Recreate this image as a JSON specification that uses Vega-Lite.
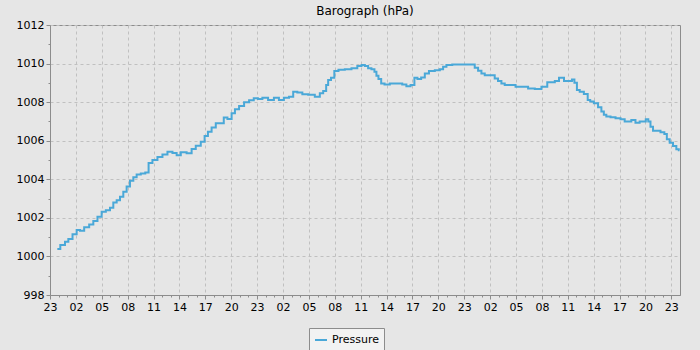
{
  "$schema": "https://vega.github.io/schema/vega-lite/v6.json",
  "width": 630,
  "height": 270,
  "autosize": "none",
  "padding": {"left": 50, "top": 25, "right": 20, "bottom": 55},
  "background": "#e6e6e6",
  "title": {"text": "Barograph (hPa)", "font": "DejaVu Sans", "fontSize": 12, "fontWeight": "normal", "color": "#000000", "anchor": "middle", "offset": 1},
  "config": {
    "view": {"fill": "#e6e6e6", "stroke": "#8c8c8c", "strokeWidth": 1},
    "axis": {"labelFont": "DejaVu Sans", "labelFontSize": 11, "labelColor": "#000000", "domainColor": "#8c8c8c", "tickColor": "#8c8c8c", "gridColor": "#c0c0c0", "gridDash": [3, 3], "gridWidth": 1, "title": null}
  },
  "data": {"values": [
    {"t": 0.85, "p": 1000.38}, {"t": 1.54, "p": 1000.59}, {"t": 1.93, "p": 1000.76}, {"t": 2.32, "p": 1000.90},
    {"t": 2.90, "p": 1001.15}, {"t": 3.28, "p": 1001.37}, {"t": 3.67, "p": 1001.33}, {"t": 4.25, "p": 1001.51},
    {"t": 4.83, "p": 1001.65}, {"t": 5.21, "p": 1001.84}, {"t": 5.79, "p": 1002.06}, {"t": 6.18, "p": 1002.32},
    {"t": 6.76, "p": 1002.39}, {"t": 7.14, "p": 1002.53}, {"t": 7.53, "p": 1002.79}, {"t": 7.92, "p": 1002.91},
    {"t": 8.30, "p": 1003.10}, {"t": 8.69, "p": 1003.36}, {"t": 9.07, "p": 1003.62}, {"t": 9.46, "p": 1003.93},
    {"t": 9.85, "p": 1004.10}, {"t": 10.23, "p": 1004.25}, {"t": 10.81, "p": 1004.30}, {"t": 11.27, "p": 1004.35},
    {"t": 11.58, "p": 1004.85}, {"t": 12.16, "p": 1005.00}, {"t": 12.74, "p": 1005.15}, {"t": 13.32, "p": 1005.29},
    {"t": 13.90, "p": 1005.43}, {"t": 14.48, "p": 1005.36}, {"t": 14.87, "p": 1005.24}, {"t": 15.44, "p": 1005.40},
    {"t": 16.22, "p": 1005.35}, {"t": 16.60, "p": 1005.57}, {"t": 17.18, "p": 1005.74}, {"t": 17.76, "p": 1005.95},
    {"t": 18.07, "p": 1006.24}, {"t": 18.53, "p": 1006.47}, {"t": 18.92, "p": 1006.69}, {"t": 19.50, "p": 1006.90},
    {"t": 20.00, "p": 1006.90}, {"t": 20.27, "p": 1007.21}, {"t": 20.85, "p": 1007.12}, {"t": 21.24, "p": 1007.42},
    {"t": 21.62, "p": 1007.63}, {"t": 22.20, "p": 1007.80}, {"t": 22.78, "p": 1007.99}, {"t": 23.36, "p": 1008.10},
    {"t": 23.86, "p": 1008.20}, {"t": 24.32, "p": 1008.16}, {"t": 24.90, "p": 1008.23}, {"t": 25.64, "p": 1008.11},
    {"t": 26.25, "p": 1008.23}, {"t": 26.80, "p": 1008.11}, {"t": 27.40, "p": 1008.23}, {"t": 27.99, "p": 1008.28},
    {"t": 28.37, "p": 1008.54}, {"t": 28.95, "p": 1008.50}, {"t": 29.53, "p": 1008.41}, {"t": 30.30, "p": 1008.38},
    {"t": 31.07, "p": 1008.28}, {"t": 31.46, "p": 1008.46}, {"t": 31.85, "p": 1008.58}, {"t": 32.15, "p": 1008.89},
    {"t": 32.31, "p": 1009.15}, {"t": 32.81, "p": 1009.27}, {"t": 33.08, "p": 1009.61}, {"t": 33.77, "p": 1009.68},
    {"t": 34.55, "p": 1009.71}, {"t": 35.32, "p": 1009.76}, {"t": 35.90, "p": 1009.87}, {"t": 36.29, "p": 1009.92},
    {"t": 36.67, "p": 1009.87}, {"t": 37.05, "p": 1009.76}, {"t": 37.44, "p": 1009.71}, {"t": 37.75, "p": 1009.58},
    {"t": 37.90, "p": 1009.37}, {"t": 38.22, "p": 1009.20}, {"t": 38.53, "p": 1008.97}, {"t": 38.99, "p": 1008.92},
    {"t": 39.76, "p": 1008.97}, {"t": 40.53, "p": 1008.97}, {"t": 41.10, "p": 1008.92}, {"t": 41.49, "p": 1008.83},
    {"t": 42.07, "p": 1008.89}, {"t": 42.38, "p": 1009.27}, {"t": 42.77, "p": 1009.20}, {"t": 43.24, "p": 1009.28},
    {"t": 43.62, "p": 1009.49}, {"t": 44.20, "p": 1009.61}, {"t": 44.98, "p": 1009.66}, {"t": 45.36, "p": 1009.71},
    {"t": 45.74, "p": 1009.83}, {"t": 46.13, "p": 1009.92}, {"t": 47.09, "p": 1009.95}, {"t": 48.56, "p": 1009.95},
    {"t": 49.02, "p": 1009.95}, {"t": 49.41, "p": 1009.78}, {"t": 49.80, "p": 1009.63}, {"t": 50.18, "p": 1009.49},
    {"t": 50.57, "p": 1009.40}, {"t": 51.34, "p": 1009.40}, {"t": 51.72, "p": 1009.23}, {"t": 52.11, "p": 1009.09},
    {"t": 52.50, "p": 1008.97}, {"t": 52.88, "p": 1008.89}, {"t": 53.46, "p": 1008.89}, {"t": 54.43, "p": 1008.80},
    {"t": 55.01, "p": 1008.80}, {"t": 55.79, "p": 1008.71}, {"t": 56.56, "p": 1008.68}, {"t": 57.33, "p": 1008.80},
    {"t": 57.91, "p": 1009.03}, {"t": 58.30, "p": 1009.03}, {"t": 58.69, "p": 1009.09}, {"t": 59.27, "p": 1009.27},
    {"t": 59.85, "p": 1009.09}, {"t": 60.35, "p": 1009.09}, {"t": 60.61, "p": 1009.18}, {"t": 60.92, "p": 1009.01},
    {"t": 61.19, "p": 1008.63}, {"t": 61.57, "p": 1008.54}, {"t": 62.15, "p": 1008.42}, {"t": 62.46, "p": 1008.11},
    {"t": 62.73, "p": 1008.03}, {"t": 63.31, "p": 1007.94}, {"t": 63.70, "p": 1007.73}, {"t": 64.08, "p": 1007.51},
    {"t": 64.27, "p": 1007.34}, {"t": 64.66, "p": 1007.25}, {"t": 65.24, "p": 1007.22}, {"t": 65.82, "p": 1007.16},
    {"t": 66.40, "p": 1007.11}, {"t": 66.78, "p": 1006.99}, {"t": 67.17, "p": 1006.99}, {"t": 67.55, "p": 1007.07},
    {"t": 68.13, "p": 1006.93}, {"t": 68.52, "p": 1006.99}, {"t": 68.90, "p": 1006.99}, {"t": 69.17, "p": 1007.11},
    {"t": 69.48, "p": 1006.99}, {"t": 69.68, "p": 1006.73}, {"t": 70.07, "p": 1006.52}, {"t": 70.45, "p": 1006.52},
    {"t": 71.03, "p": 1006.44}, {"t": 71.34, "p": 1006.35}, {"t": 71.61, "p": 1006.07}, {"t": 72.00, "p": 1005.90},
    {"t": 72.38, "p": 1005.73}, {"t": 72.77, "p": 1005.56}, {"t": 72.95, "p": 1005.50}
  ]},
  "mark": {"type": "line", "interpolate": "step", "strokeWidth": 2},
  "encoding": {
    "x": {
      "field": "t", "type": "quantitative",
      "scale": {"domain": [0, 73], "nice": false, "zero": false},
      "axis": {
        "values": [0,1,2,3,4,5,6,7,8,9,10,11,12,13,14,15,16,17,18,19,20,21,22,23,24,25,26,27,28,29,30,31,32,33,34,35,36,37,38,39,40,41,42,43,44,45,46,47,48,49,50,51,52,53,54,55,56,57,58,59,60,61,62,63,64,65,66,67,68,69,70,71,72],
        "labelExpr": "datum.value % 3 == 0 ? pad(toString((23 + datum.value) % 24), 2, '0', 'left') : ''",
        "labelOverlap": false,
        "labelFlush": false,
        "labelPadding": 2,
        "tickSize": {"condition": {"test": "datum.value % 3 == 0", "value": 4}, "value": 2},
        "gridOpacity": {"condition": {"test": "datum.value % 3 == 0", "value": 1}, "value": 0},
        "title": null
      }
    },
    "y": {
      "field": "p", "type": "quantitative",
      "scale": {"domain": [998, 1012], "nice": false, "zero": false},
      "axis": {
        "values": [998,999,1000,1001,1002,1003,1004,1005,1006,1007,1008,1009,1010,1011,1012],
        "format": "d",
        "labelExpr": "datum.value % 2 == 0 ? datum.label : ''",
        "labelOverlap": false,
        "labelFlush": false,
        "labelPadding": 2,
        "tickSize": {"condition": {"test": "datum.value % 2 == 0", "value": 4}, "value": 2},
        "gridOpacity": {"condition": {"test": "datum.value % 2 == 0", "value": 1}, "value": 0},
        "title": null
      }
    },
    "color": {
      "datum": "Pressure",
      "scale": {"range": ["#4aa8d8"]},
      "legend": {
        "orient": "none", "legendX": 259, "legendY": 303, "title": null,
        "symbolType": "stroke", "symbolStrokeWidth": 2, "symbolSize": 144,
        "labelFont": "DejaVu Sans", "labelFontSize": 11, "labelColor": "#000000",
        "labelExpr": "datum.label + '\u00a0\u00a0'",
        "fillColor": "#f2f2f2", "strokeColor": "#8c8c8c", "padding": 5
      }
    }
  }
}
